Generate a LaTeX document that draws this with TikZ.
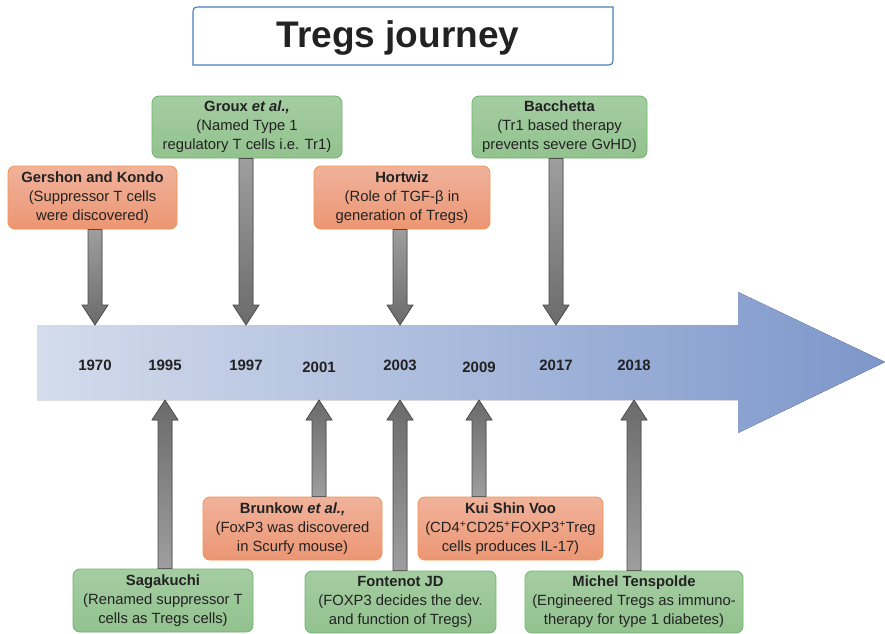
\documentclass[tikz,border=0pt]{standalone}
\usepackage{fontspec}
\setmainfont{Liberation Sans}
\usetikzlibrary{calc}

\definecolor{naranjaA}{HTML}{F0B29B}
\definecolor{naranjaB}{HTML}{EC9673}
\definecolor{naranjaborde}{HTML}{F5924F}
\definecolor{verdeA}{HTML}{A5CDA2}
\definecolor{verdeB}{HTML}{92C28E}
\definecolor{verdeborde}{HTML}{6DB56A}
\definecolor{grisclaro}{HTML}{9E9E9E}
\definecolor{grisoscuro}{HTML}{6B6B6B}
\definecolor{azulclaro}{HTML}{D4DCEC}
\definecolor{azul}{HTML}{7D97CB}
\definecolor{azulborde}{HTML}{4A7EBB}
\definecolor{texto}{HTML}{222222}

% flecha gruesa de un evento a la linea de tiempo
\newcommand{\flecha}[3]{%
  \filldraw[#1] let \p1=(#2), \p2=(#3), \p3=($(#3)!20pt!(#2)$) in
    (\x1-7pt,\y1) -- (\x1-7pt,\y3) -- (\x1-13pt,\y3) -- (\x2,\y2)
    -- (\x1+13pt,\y3) -- (\x1+7pt,\y3) -- (\x1+7pt,\y1) -- cycle;}

\begin{document}
\begin{tikzpicture}[x=1pt, y=-1pt,
    evento/.style={rounded corners=7pt, line width=0.8pt, align=center, inner sep=0pt,
      text=texto, font=\fontsize{14.8}{19}\selectfont},
    naranja/.style={evento, draw=naranjaborde, top color=naranjaA, bottom color=naranjaB},
    verde/.style={evento, draw=verdeborde, top color=verdeA, bottom color=verdeB},
    anio/.style={font=\fontsize{15}{17}\selectfont\bfseries, text=texto},
    baja/.style={draw=grisoscuro!70!black, line width=0.7pt, top color=grisclaro, bottom color=grisoscuro},
    sube/.style={draw=grisoscuro!70!black, line width=0.7pt, top color=grisoscuro, bottom color=grisclaro}]

  \useasboundingbox (0,0) rectangle (885,633);

  % Titulo
  \draw[azulborde, line width=1.2pt, fill=white] (193,65) -- (193,16) .. controls (193,7) .. (202,7)
    -- (613,7) -- (613,56) .. controls (613,65) .. (604,65) -- cycle;
  \node[font=\fontsize{37}{40}\selectfont\bfseries, text=texto] (titulo) at (398,38) {Tregs journey};

  % Linea de tiempo
  \fill[left color=azulclaro, right color=azul] (37,325) -- (738,325) -- (738,292) -- (885,362)
    -- (738,433) -- (738,400) -- (37,400) -- cycle;
  \coordinate (arriba) at (0,325);
  \coordinate (abajo) at (0,400);

  \node[anio] (y1970) at (95,365) {1970};
  \node[anio] (y1995) at (165,365) {1995};
  \node[anio] (y1997) at (246,365) {1997};
  \node[anio] (y2001) at (319,367) {2001};
  \node[anio] (y2003) at (400,365) {2003};
  \node[anio] (y2009) at (479,367) {2009};
  \node[anio] (y2017) at (556,365) {2017};
  \node[anio] (y2018) at (634,365) {2018};

  % Eventos de arriba
  \node[naranja, minimum width=169, minimum height=63] (gershon) at (92.5,197.5)
    {\textbf{Gershon and Kondo}\\(Suppressor T cells\\were discovered)};
  \node[verde, minimum width=190, minimum height=62] (groux) at (247,127)
    {\textbf{Groux \textit{et al.,}}\\(Named Type 1\\regulatory T cells i.e. Tr1)};
  \node[naranja, minimum width=176, minimum height=63] (hortwiz) at (402,197.5)
    {\textbf{Hortwiz}\\(Role of TGF-β in\\generation of Tregs)};
  \node[verde, minimum width=175, minimum height=62] (bacchetta) at (559.5,127)
    {\textbf{Bacchetta}\\(Tr1 based therapy\\prevents severe GvHD)};

  % Eventos de abajo
  \node[naranja, minimum width=179, minimum height=63] (brunkow) at (292.5,528.5)
    {\textbf{Brunkow \textit{et al.,}}\\(FoxP3 was discovered\\in Scurfy mouse)};
  \node[naranja, minimum width=185, minimum height=63] (kui) at (510.5,528.5)
    {\textbf{Kui Shin Voo}\\(CD4\textsuperscript{+}CD25\textsuperscript{+}FOXP3\textsuperscript{+}Treg\\cells produces IL-17)};
  \node[verde, minimum width=180, minimum height=63] (sagakuchi) at (163,600.5)
    {\textbf{Sagakuchi}\\(Renamed suppressor T\\cells as Tregs cells)};
  \node[verde, minimum width=191, minimum height=62] (fontenot) at (400.5,602)
    {\textbf{Fontenot JD}\\(FOXP3 decides the dev.\\and function of Tregs)};
  \node[verde, minimum width=218, minimum height=62] (michel) at (634,602)
    {\textbf{Michel Tenspolde}\\(Engineered Tregs as immuno-\\therapy for type 1 diabetes)};

  % Flechas
  \flecha{baja}{gershon.south -| y1970}{y1970 |- arriba}
  \flecha{baja}{groux.south -| y1997}{y1997 |- arriba}
  \flecha{baja}{hortwiz.south -| y2003}{y2003 |- arriba}
  \flecha{baja}{bacchetta.south -| y2017}{y2017 |- arriba}
  \flecha{sube}{sagakuchi.north -| y1995}{y1995 |- abajo}
  \flecha{sube}{brunkow.north -| y2001}{y2001 |- abajo}
  \flecha{sube}{fontenot.north -| y2003}{y2003 |- abajo}
  \flecha{sube}{kui.north -| y2009}{y2009 |- abajo}
  \flecha{sube}{michel.north -| y2018}{y2018 |- abajo}

\end{tikzpicture}
\end{document}
